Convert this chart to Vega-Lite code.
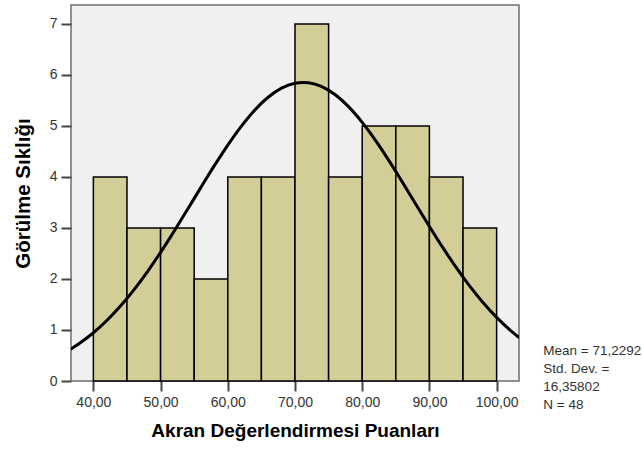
{
  "$schema": "https://vega.github.io/schema/vega-lite/v6.json",
  "autosize": {"type": "none"},
  "padding": {"left": 71, "top": 5, "right": 123, "bottom": 69},
  "width": 448,
  "height": 376,
  "background": "white",
  "config": {
    "view": {"fill": "#F0F0F0", "stroke": "#6E6E6E", "strokeWidth": 1.5},
    "font": "Liberation Sans"
  },
  "datasets": {
    "bins": [
      {"start": 40, "end": 45, "count": 4},
      {"start": 45, "end": 50, "count": 3},
      {"start": 50, "end": 55, "count": 3},
      {"start": 55, "end": 60, "count": 2},
      {"start": 60, "end": 65, "count": 4},
      {"start": 65, "end": 70, "count": 4},
      {"start": 70, "end": 75, "count": 7},
      {"start": 75, "end": 80, "count": 4},
      {"start": 80, "end": 85, "count": 5},
      {"start": 85, "end": 90, "count": 5},
      {"start": 90, "end": 95, "count": 4},
      {"start": 95, "end": 100, "count": 3}
    ],
    "curve": [
      {"x": 36.6, "y": 0.6227}, {"x": 38, "y": 0.7436}, {"x": 40, "y": 0.9462},
      {"x": 42, "y": 1.1861}, {"x": 44, "y": 1.4646}, {"x": 46, "y": 1.7819},
      {"x": 48, "y": 2.1356}, {"x": 50, "y": 2.5215}, {"x": 52, "y": 2.9331},
      {"x": 54, "y": 3.3613}, {"x": 56, "y": 3.7947}, {"x": 58, "y": 4.2206},
      {"x": 60, "y": 4.6244}, {"x": 62, "y": 4.992}, {"x": 64, "y": 5.3086},
      {"x": 66, "y": 5.5616}, {"x": 68, "y": 5.7402}, {"x": 70, "y": 5.8367},
      {"x": 71.23, "y": 5.8532}, {"x": 72, "y": 5.8467}, {"x": 74, "y": 5.7698},
      {"x": 76, "y": 5.6095}, {"x": 78, "y": 5.3727}, {"x": 80, "y": 5.0695},
      {"x": 82, "y": 4.7123}, {"x": 84, "y": 4.3157}, {"x": 86, "y": 3.8935},
      {"x": 88, "y": 3.4606}, {"x": 90, "y": 3.0301}, {"x": 92, "y": 2.6138},
      {"x": 94, "y": 2.2215}, {"x": 96, "y": 1.8598}, {"x": 98, "y": 1.5341},
      {"x": 100, "y": 1.2464}, {"x": 102, "y": 0.9977}, {"x": 103.4, "y": 0.8462}
    ],
    "stats": [
      {"x": 106.95, "y": 0.594, "label": "Mean = 71,2292\nStd. Dev. =\n16,35802\nN = 48"}
    ]
  },
  "layer": [
    {
      "data": {"name": "bins"},
      "mark": {"type": "rect", "fill": "#D3CE97", "stroke": "#000000", "strokeWidth": 1.5},
      "encoding": {
        "x": {
          "field": "start", "type": "quantitative",
          "scale": {"domain": [36.67, 103.33], "nice": false, "zero": false},
          "axis": {
            "title": "Akran Değerlendirmesi Puanları",
            "values": [40, 50, 60, 70, 80, 90, 100],
            "labelExpr": "replace(format(datum.value, '.2f'), '.', ',')",
            "domain": false, "grid": false,
            "tickSize": 10, "tickWidth": 2, "tickColor": "#444444",
            "labelFontSize": 14, "labelColor": "#333333", "labelPadding": 4,
            "titleFontSize": 19, "titleFontWeight": "bold", "titleColor": "#000000",
            "titlePadding": 12
          }
        },
        "x2": {"field": "end"},
        "y": {
          "field": "count", "type": "quantitative",
          "scale": {"domain": [0, 7.37], "nice": false},
          "axis": {
            "title": "Görülme Sıklığı",
            "values": [0, 1, 2, 3, 4, 5, 6, 7],
            "domain": false, "grid": false,
            "tickSize": 10, "tickWidth": 2, "tickColor": "#444444",
            "labelFontSize": 14, "labelColor": "#333333", "labelPadding": 4,
            "titleFontSize": 20.5, "titleFontWeight": "bold", "titleColor": "#000000",
            "titlePadding": 16
          }
        },
        "y2": {"datum": 0}
      }
    },
    {
      "data": {"name": "curve"},
      "mark": {"type": "line", "color": "#000000", "strokeWidth": 3, "clip": true, "interpolate": "monotone"},
      "encoding": {
        "x": {"field": "x", "type": "quantitative"},
        "y": {"field": "y", "type": "quantitative"}
      }
    },
    {
      "data": {"name": "stats"},
      "mark": {"type": "text", "align": "left", "baseline": "middle", "fontSize": 13.5, "lineBreak": "\n", "lineHeight": 18, "color": "#333333"},
      "encoding": {
        "x": {"field": "x", "type": "quantitative"},
        "y": {"field": "y", "type": "quantitative"},
        "text": {"field": "label"}
      }
    }
  ]
}
